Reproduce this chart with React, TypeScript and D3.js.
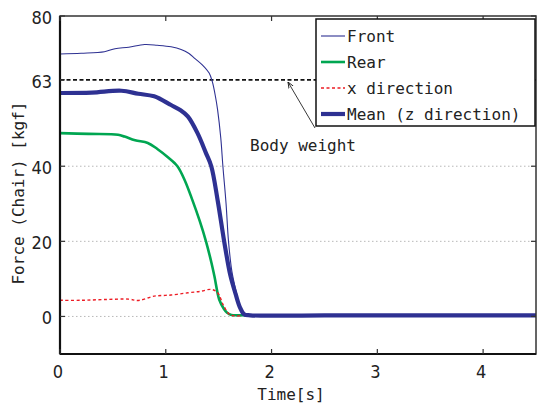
import { useEffect, useRef } from "react";
import * as d3 from "d3";

const W = 538;
const H = 406;
const MARGIN = { top: 16, right: 2, bottom: 52, left: 60 };

const X_TICKS = [0, 1, 2, 3, 4];
const Y_TICKS = [0, 20, 40, 63, 80];
const GRID_Y = [0, 20, 40];
const BODY_WEIGHT = 63;

// [time s, force kgf]
const frontData: [number, number][] = [
  [0, 69.9], [0.2, 70.1], [0.42, 70.5], [0.52, 71.3], [0.65, 71.7], [0.8, 72.4],
  [0.92, 72.2], [1.05, 71.8], [1.145, 71.1], [1.22, 70.0], [1.27, 68.8], [1.345, 67.0],
  [1.41, 64.8], [1.44, 62.5], [1.47, 58.5], [1.49, 55], [1.52, 47.5], [1.54, 40], [1.57, 30],
  [1.593, 20], [1.625, 12], [1.662, 7], [1.7, 2.5], [1.74, 0.6], [1.8, 0.3], [2.5, 0.3], [4.5, 0.3],
];
const rearData: [number, number][] = [
  [0, 48.8], [0.27, 48.6], [0.55, 48.4], [0.61, 47.9], [0.71, 46.9], [0.83, 46.2],
  [0.92, 44.6], [1.02, 42.4], [1.11, 40], [1.18, 36.2], [1.25, 31.1], [1.32, 25.5],
  [1.38, 20], [1.43, 14.5], [1.46, 10.7], [1.505, 4.5], [1.55, 2.0], [1.58, 1],
  [1.62, 0.4], [1.7, 0.3], [2.5, 0.3], [4.5, 0.3],
];
const xDirData: [number, number][] = [
  [0, 4.3], [0.2, 4.3], [0.42, 4.5], [0.65, 4.6], [0.74, 4.25], [0.89, 5.4], [1.05, 5.7],
  [1.21, 6.3], [1.33, 6.7], [1.43, 7.2], [1.49, 6.3], [1.55, 2.7], [1.61, 0.4], [1.72, 0.2],
];
const meanData: [number, number][] = [
  [0, 59.5], [0.3, 59.6], [0.58, 60.1], [0.74, 59.3], [0.89, 58.6], [1.05, 56.3],
  [1.14, 54.9], [1.21, 53.2], [1.3, 48.8], [1.38, 43.5], [1.43, 40], [1.49, 31], [1.552, 20],
  [1.61, 11], [1.66, 6], [1.7, 2.5], [1.74, 0.6], [1.8, 0.3], [2.5, 0.3], [4.5, 0.3],
];

const NAVY = "#2e3192";
const GREEN = "#00a651";
const RED = "#ed1c24";

const series = [
  { name: "Front", data: frontData, color: NAVY, width: 1.1, dash: null },
  { name: "Rear", data: rearData, color: GREEN, width: 2.6, dash: null },
  { name: "x direction", data: xDirData, color: RED, width: 1.4, dash: "3,2.5" },
  { name: "Mean (z direction)", data: meanData, color: NAVY, width: 4.2, dash: null },
];
const drawOrder = ["Rear", "Front", "Mean (z direction)", "x direction"];

const MONO = "'DejaVu Sans Mono', monospace";
const NUM = "'Liberation Sans Narrow', 'DejaVu Sans Condensed', 'Liberation Sans', sans-serif";

export default function App() {
  const ref = useRef<SVGSVGElement>(null);

  useEffect(() => {
    const svg = d3.select(ref.current);
    svg.selectAll("*").remove();

    const iw = W - MARGIN.left - MARGIN.right;
    const ih = H - MARGIN.top - MARGIN.bottom;
    const x = d3.scaleLinear().domain([0, 4.5]).range([0, iw]);
    const y = d3.scaleLinear().domain([-10, 80]).range([ih, 0]);

    const g = svg.append("g").attr("transform", `translate(${MARGIN.left},${MARGIN.top})`);

    // grid
    g.selectAll(".grid")
      .data(GRID_Y)
      .enter()
      .append("line")
      .attr("x1", 0)
      .attr("x2", iw)
      .attr("y1", (d) => y(d))
      .attr("y2", (d) => y(d))
      .attr("stroke", "#b8b8b8")
      .attr("stroke-width", 1)
      .attr("stroke-dasharray", "1.5,2.5");

    // body weight line
    g.append("line")
      .attr("x1", 0)
      .attr("x2", iw)
      .attr("y1", y(BODY_WEIGHT))
      .attr("y2", y(BODY_WEIGHT))
      .attr("stroke", "#111")
      .attr("stroke-width", 1.8)
      .attr("stroke-dasharray", "4,2.5");

    const line = d3
      .line<[number, number]>()
      .x((d) => x(d[0]))
      .y((d) => y(d[1]))
      .curve(d3.curveCatmullRom.alpha(0.5));

    drawOrder.forEach((n) => {
      const s = series.find((q) => q.name === n)!;
      const p = g
        .append("path")
        .attr("d", line(s.data))
        .attr("fill", "none")
        .attr("stroke", s.color)
        .attr("stroke-width", s.width)
        .attr("stroke-linejoin", "round");
      if (s.dash) p.attr("stroke-dasharray", s.dash);
    });

    // frame
    g.append("rect")
      .attr("x", 0)
      .attr("y", 0)
      .attr("width", iw)
      .attr("height", ih)
      .attr("fill", "none")
      .attr("stroke", "#333")
      .attr("stroke-width", 1.5);
    g.append("line").attr("x1", 0).attr("x2", 0).attr("y1", 0).attr("y2", ih)
      .attr("stroke", "#111").attr("stroke-width", 2.2);
    g.append("line").attr("x1", 0).attr("x2", iw).attr("y1", ih).attr("y2", ih)
      .attr("stroke", "#111").attr("stroke-width", 2.2);

    // inward ticks on all sides
    const TL = 5;
    X_TICKS.forEach((t) => {
      g.append("line").attr("x1", x(t)).attr("x2", x(t)).attr("y1", ih).attr("y2", ih - TL)
        .attr("stroke", "#333").attr("stroke-width", 1.2);
      g.append("line").attr("x1", x(t)).attr("x2", x(t)).attr("y1", 0).attr("y2", TL)
        .attr("stroke", "#333").attr("stroke-width", 1.2);
      g.append("text")
        .attr("x", x(t) - 2)
        .attr("y", ih + 24)
        .attr("text-anchor", "middle")
        .style("font-family", NUM)
        .style("font-size", "18px")
        .attr("fill", "#222")
        .text(t);
    });
    Y_TICKS.forEach((t) => {
      g.append("line").attr("x1", 0).attr("x2", TL).attr("y1", y(t)).attr("y2", y(t))
        .attr("stroke", "#333").attr("stroke-width", 1.2);
      g.append("line").attr("x1", iw).attr("x2", iw - TL).attr("y1", y(t)).attr("y2", y(t))
        .attr("stroke", "#333").attr("stroke-width", 1.2);
      g.append("text")
        .attr("x", -8)
        .attr("y", y(t) + 8)
        .attr("text-anchor", "end")
        .style("font-family", NUM)
        .style("font-size", "18px")
        .attr("fill", "#222")
        .text(t);
    });

    // axis labels
    svg.append("text")
      .attr("x", 291)
      .attr("y", 400)
      .attr("text-anchor", "middle")
      .style("font-family", MONO)
      .style("font-size", "16px")
      .attr("fill", "#222")
      .text("Time[s]");
    svg.append("text")
      .attr("transform", "translate(24,193) rotate(-90)")
      .attr("text-anchor", "middle")
      .style("font-family", MONO)
      .style("font-size", "16px")
      .attr("fill", "#222")
      .text("Force (Chair) [kgf]");

    // annotation
    svg.append("defs")
      .append("marker")
      .attr("id", "ah")
      .attr("viewBox", "0 0 10 10")
      .attr("refX", 10)
      .attr("refY", 5)
      .attr("markerWidth", 7)
      .attr("markerHeight", 7)
      .attr("orient", "auto")
      .append("path")
      .attr("d", "M0,1 L10,5 L0,9")
      .attr("fill", "none")
      .attr("stroke", "#111")
      .attr("stroke-width", 1.3);
    svg.append("line")
      .attr("x1", 315)
      .attr("y1", 128)
      .attr("x2", 288)
      .attr("y2", 82)
      .attr("stroke", "#222")
      .attr("stroke-width", 0.9)
      .attr("marker-end", "url(#ah)");
    svg.append("text")
      .attr("x", 250)
      .attr("y", 151)
      .style("font-family", MONO)
      .style("font-size", "16px")
      .attr("fill", "#222")
      .text("Body weight");

    // legend
    const lg = svg.append("g").attr("transform", "translate(316,19)");
    lg.append("rect")
      .attr("width", 219)
      .attr("height", 107)
      .attr("fill", "#fff")
      .attr("stroke", "#111")
      .attr("stroke-width", 1.5);
    series.forEach((s, i) => {
      const cy = 17 + i * 26;
      const l = lg.append("line")
        .attr("x1", 5)
        .attr("x2", 29)
        .attr("y1", cy)
        .attr("y2", cy)
        .attr("stroke", s.color)
        .attr("stroke-width", s.width);
      if (s.dash) l.attr("stroke-dasharray", s.dash);
      lg.append("text")
        .attr("x", 31)
        .attr("y", cy + 6)
        .style("font-family", MONO)
        .style("font-size", "16px")
        .attr("fill", "#222")
        .text(s.name);
    });
  }, []);

  return (
    <svg
      ref={ref}
      width={W}
      height={H}
      style={{ position: "absolute", left: 0, top: 0, background: "#fff" }}
    />
  );
}
